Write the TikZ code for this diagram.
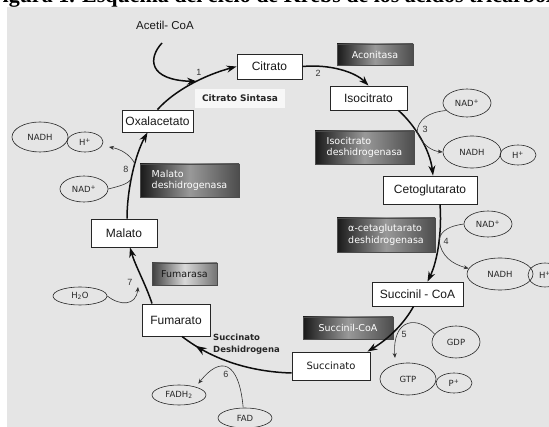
\documentclass[tikz,border=0pt]{standalone}
\usepackage{fontspec}
\setmainfont{Liberation Sans}
\newfontfamily\dvs{DejaVu Sans}
\newfontfamily\ttl{Liberation Serif}
\usetikzlibrary{shapes.geometric,arrows.meta,decorations.markings}
\definecolor{bgpanel}{RGB}{229,229,229}
\begin{document}
\begin{tikzpicture}[x=1pt,y=1pt,
 mbox/.style={draw=black!85,line width=0.9pt,fill=white,inner sep=0pt,text=black!90,font=\fontsize{12}{14}\selectfont},
 ebox/.style={draw=black!70,line width=0.5pt,left color=black!90,right color=black!70,middle color=black!40,text=white,inner sep=0pt,font=\dvs\fontsize{9.5}{11.5}\selectfont,align=left},
 ell/.style={ellipse,draw=black!85,line width=0.6pt,inner sep=0pt,text=black!85,font=\dvs\fontsize{8.5}{10}\selectfont},
 main/.style={line width=1.5pt,draw=black!95,-{Stealth[length=10pt,width=7pt]}},
 side/.style={line width=0.6pt,draw=black!80,-{Stealth[length=5pt,width=4pt]}},
 sidel/.style={line width=0.6pt,draw=black!80},
 num/.style={font=\fontsize{9}{10}\selectfont,inner sep=0pt,text=black!80}
]
\useasboundingbox (0,0) rectangle (549,-427);
\fill[white] (0,0) rectangle (549,-427);
\begin{scope}
\clip (0,0) rectangle (549,-7);
\node[anchor=base west,inner sep=0pt,font=\ttl\bfseries\fontsize{22}{24}\selectfont] (title) at (-11,-2.5) {Figura 1. Esquema del ciclo de Krebs de los ácidos tricarboxílicos};
\end{scope}
\fill[bgpanel] (7,-7) rectangle (549,-427);

% main boxes
\node[mbox,minimum width=65pt,minimum height=25pt] (cit) at (269.5,-66.5) {Citrato};
\node[mbox,minimum width=77pt,minimum height=24pt] (iso) at (368.5,-98) {Isocitrato};
\node[mbox,minimum width=94pt,minimum height=28pt] (ceto) at (430,-190) {Cetoglutarato};
\node[mbox,minimum width=91pt,minimum height=24pt] (suc) at (417.5,-294) {Succinil - CoA};
\node[mbox,minimum width=78pt,minimum height=28pt,font=\dvs\fontsize{10}{12}\selectfont] (sna) at (331,-366) {Succinato};
\node[mbox,minimum width=68pt,minimum height=32pt] (fum) at (176,-320) {Fumarato};
\node[mbox,minimum width=66pt,minimum height=28pt] (mal) at (124,-233) {Malato};
\node[mbox,minimum width=71pt,minimum height=22pt] (oxa) at (157.5,-121) {Oxalacetato};

% enzyme boxes
\node[ebox,minimum width=76pt,minimum height=21pt] (acon) at (375,-54.5) {Aconitasa};
\node[fill=white!70!bgpanel,inner sep=0pt,minimum width=90pt,minimum height=19pt,text=black!85,font=\dvs\bfseries\fontsize{9}{10}\selectfont] (csint) at (240,-98.5) {Citrato Sintasa};
\node[ebox,minimum width=99pt,minimum height=33pt] (isod) at (364.5,-147.5) {Isocitrato\\deshidrogenasa};
\node[ebox,minimum width=99pt,minimum height=33pt] (malod) at (189.5,-180.5) {Malato\\deshidrogenasa};
\node[ebox,minimum width=98pt,minimum height=34pt] (akgd) at (386,-235) {α-cetaglutarato\\deshidrogenasa};
\node[ebox,minimum width=65pt,minimum height=22pt,left color=black!75,right color=black!55,middle color=black!15,text=black!90] (fumar) at (184.5,-274) {Fumarasa};
\node[ebox,minimum width=90pt,minimum height=22pt] (succd) at (348,-328) {Succinil-CoA};
\node[anchor=west,align=left,inner sep=0pt,text=black!85,font=\dvs\bfseries\fontsize{8.5}{12}\selectfont] (sdh) at (213,-344) {Succinato\\Deshidrogena};

% ellipses
\node[ell,minimum width=48pt,minimum height=28pt] (nad1) at (467,-103) {NAD\textsuperscript{+}};
\node[ell,minimum width=58pt,minimum height=32pt] (nadh1) at (472,-152) {NADH};
\node[ell,minimum width=36pt,minimum height=20pt] (hp1) at (518,-155) {H\textsuperscript{+}};
\node[ell,minimum width=48pt,minimum height=26pt] (nad2) at (488,-224) {NAD\textsuperscript{+}};
\node[ell,minimum width=66pt,minimum height=32pt] (nadh2) at (500,-274) {NADH};
\node[ell,minimum width=34pt,minimum height=24pt] (hp2) at (545,-275) {H\textsuperscript{+}};
\node[ell,minimum width=48pt,minimum height=32pt] (gdp) at (456,-342) {GDP};
\node[ell,minimum width=56pt,minimum height=32pt] (gtp) at (408,-379) {GTP};
\node[ell,minimum width=36pt,minimum height=20pt] (pp) at (454,-383) {P\textsuperscript{+}};
\node[ell,minimum width=54pt,minimum height=20pt] (fadh2) at (179,-395) {FADH\textsubscript{2}};
\node[ell,minimum width=54pt,minimum height=20pt] (fad) at (245,-418) {FAD};
\node[ell,minimum width=54pt,minimum height=18pt] (h2o) at (80,-296) {H\textsubscript{2}O};
\node[ell,minimum width=48pt,minimum height=26pt] (nad3) at (84,-189) {NAD\textsuperscript{+}};
\node[ell,minimum width=56pt,minimum height=30pt] (nadh3) at (40,-137) {NADH};
\node[ell,minimum width=36pt,minimum height=20pt] (hp3) at (85,-142) {H\textsuperscript{+}};

% Acetil-CoA
\node[inner sep=0pt,font=\fontsize{11.5}{13}\selectfont,text=black!90] (acetil) at (165,-25) {Acetil- CoA};
\coordinate (acs) at (162,-43);
\coordinate (j1) at (197,-81.5);
\draw[main] (acs) .. controls (148,-58) and (148,-80) .. (j1);

% main cycle
\draw[main] (oxa.north) .. controls (175,-90) and (205,-75) .. (cit.west);
\draw[main] (cit.east) .. controls (330,-64) and (355,-72) .. (iso.north);
\draw[main] ([xshift=-9pt]iso.south east) .. controls (415,-125) and (430,-150) .. ([xshift=3pt]ceto.north);
\draw[main] ([xshift=10pt]ceto.south) .. controls (442,-230) and (438,-260) .. ([xshift=10pt]suc.north);
\draw[main] ([xshift=-4pt]suc.south) .. controls (405,-322) and (390,-338) .. ([xshift=-3pt]sna.north east);
\draw[line width=1.5pt,draw=black!95,postaction={decorate},decoration={markings,mark=at position 0.86 with {\arrow{Stealth[length=11pt,width=8pt]}}}] ([yshift=-7pt]sna.west) .. controls (255,-372) and (215,-362) .. ([xshift=6pt]fum.south);
\draw[main] ([xshift=-24pt]fum.north) .. controls (146,-285) and (135,-265) .. ([xshift=6pt]mal.south);
\draw[main] ([xshift=3pt]mal.north) .. controls (127,-190) and (135,-155) .. ([xshift=-10pt]oxa.south);

% side reactions
\coordinate (j3) at (417,-132);
\draw[sidel] (nad1.200) .. controls (428,-112) and (418,-120) .. (j3);
\draw[side] (j3) .. controls (422,-145) and (432,-151) .. (nadh1.west);
\coordinate (j4) at (439,-240);
\draw[sidel] (nad2.west) .. controls (450,-226) and (441,-230) .. (j4);
\draw[side] (j4) .. controls (441,-256) and (452,-264) .. (nadh2.170);
\coordinate (t5) at (395,-358);
\draw[side] (gdp.160) .. controls (418,-315) and (392,-318) .. (t5);
\draw[side] (fad.100) .. controls (239,-360) and (220,-356) .. ([yshift=4pt]fadh2.north east);
\coordinate (t7) at (138,-287);
\draw[side] (h2o.east) .. controls (120,-306) and (136,-306) .. (t7);
\coordinate (j8a) at (131.5,-179);
\coordinate (j8b) at (135,-164);
\coordinate (t8) at (109,-147);
\draw[sidel] (nad3.east) .. controls (120,-186) and (128,-184) .. (j8a);
\draw[side] (j8b) .. controls (130,-154) and (120,-149) .. (t8);

% numbers
\node[num] (n1) at (199,-72) {1};
\node[num] (n2) at (318,-73) {2};
\node[num] (n3) at (425,-129) {3};
\node[num] (n4) at (446,-241) {4};
\node[num] (n5) at (404,-334) {5};
\node[num] (n6) at (226,-374) {6};
\node[num] (n7) at (130,-282) {7};
\node[num] (n8) at (126,-169) {8};
\end{tikzpicture}
\end{document}
